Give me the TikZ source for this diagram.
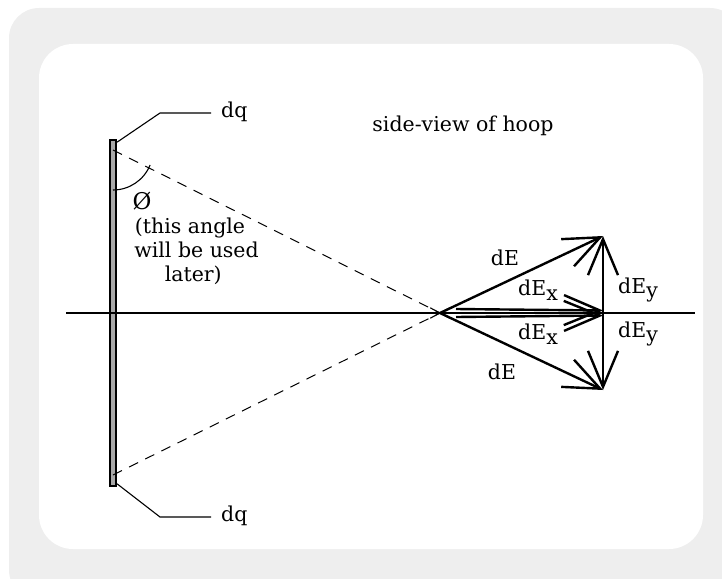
\documentclass[tikz,border=0pt]{standalone}
\usepackage{fontspec}
\setmainfont{DejaVu Serif}
\usetikzlibrary{positioning,arrows.meta,calc}
\definecolor{hoopframe}{HTML}{EEEEEE}
\definecolor{hoopbar}{HTML}{A8A8A8}
\newcommand{\lowsub}[1]{\raisebox{-0.45ex}{#1}}

\begin{document}
\begin{tikzpicture}[x=1pt, y=-1pt,
  font=\fontsize{20.5}{24}\selectfont,
  vec/.style={-{Straight Barb[length=36pt,width=30pt]}, line width=2.4pt},
  dashline/.style={dash pattern=on 10pt off 8pt, line width=1pt},
  lead/.style={line width=1.1pt},
  lbl/.style={inner sep=1pt}
]
\useasboundingbox (0,0) rectangle (722,578);
\fill[hoopframe, rounded corners=30pt] (9,8) rectangle (740,600);
\fill[white, rounded corners=34pt] (39,44) rectangle (703,549);

\node[draw, fill=hoopbar, line width=1.6pt, inner sep=0pt,
      minimum width=6.5pt, minimum height=346pt] (hoop) at (113,313) {};
\node[lbl] (title) at (463,126) {side-view of hoop};

% the axis of the hoop and the field point
\coordinate (axl) at (66,313);
\coordinate (axr) at (695,313);
\coordinate (O) at (440,313);
\draw[lead] (axl) -- (axr);

% charge elements at the rim, with leader lines
\coordinate (bartop) at (113,150);
\coordinate (barbot) at (113,475);
\node[lbl, anchor=west] (dqtop) at (220,112) {dq};
\node[lbl, anchor=west] (dqbot) at (220,516) {dq};
\draw[lead] ($(hoop.north east)+(0,3)$) -- (160,113) -- ($(dqtop.west)+(-9,1)$);
\draw[lead] ($(hoop.south east)+(0,-3)$) -- (160,517) -- ($(dqbot.west)+(-9,1)$);
\draw[dashline] (bartop) -- (O);
\draw[dashline] (barbot) -- (O);

% angle between the rim and the line of sight
\draw[lead] (113,190) arc[start angle=90, end angle=22, radius=40];
\node[lbl] (phi) at (142,201) {\fontsize{23}{24}\selectfont Ø};
\node[lbl, align=center] (note) at (190,251) {(this angle\\ \ \ will be used\\ \ later)};

% little star at the field point
\foreach \a in {-28,28} \draw[lead] ($(O)+(\a:-11)$) -- ($(O)+(\a:11)$);

% field vectors and their components
\coordinate (tipup) at (603,236);
\coordinate (tipdn) at (603,390);
\coordinate (tipx) at (603,313);
\coordinate (xa) at (456,309);
\coordinate (xb) at (456,317);
\draw[vec] (O) -- (tipup);
\draw[vec] (O) -- (tipdn);
\draw[vec] (xa) -- ($(tipx)+(0,-2.5)$);
\draw[vec] (xb) -- ($(tipx)+(0,2.5)$);
\draw[vec] (tipx) -- (tipup);
\draw[vec] (tipx) -- (tipdn);

\node[lbl] (dEup) at (505,258) {dE};
\node[lbl] (dEdn) at (502,372) {dE};
\node[lbl] (dExup) at (538,290) {dE\lowsub{x}};
\node[lbl] (dExdn) at (538,334) {dE\lowsub{x}};
\node[lbl] (dEyup) at (638,290) {dE\lowsub{y}};
\node[lbl] (dEydn) at (638,334) {dE\lowsub{y}};
\end{tikzpicture}
\end{document}
